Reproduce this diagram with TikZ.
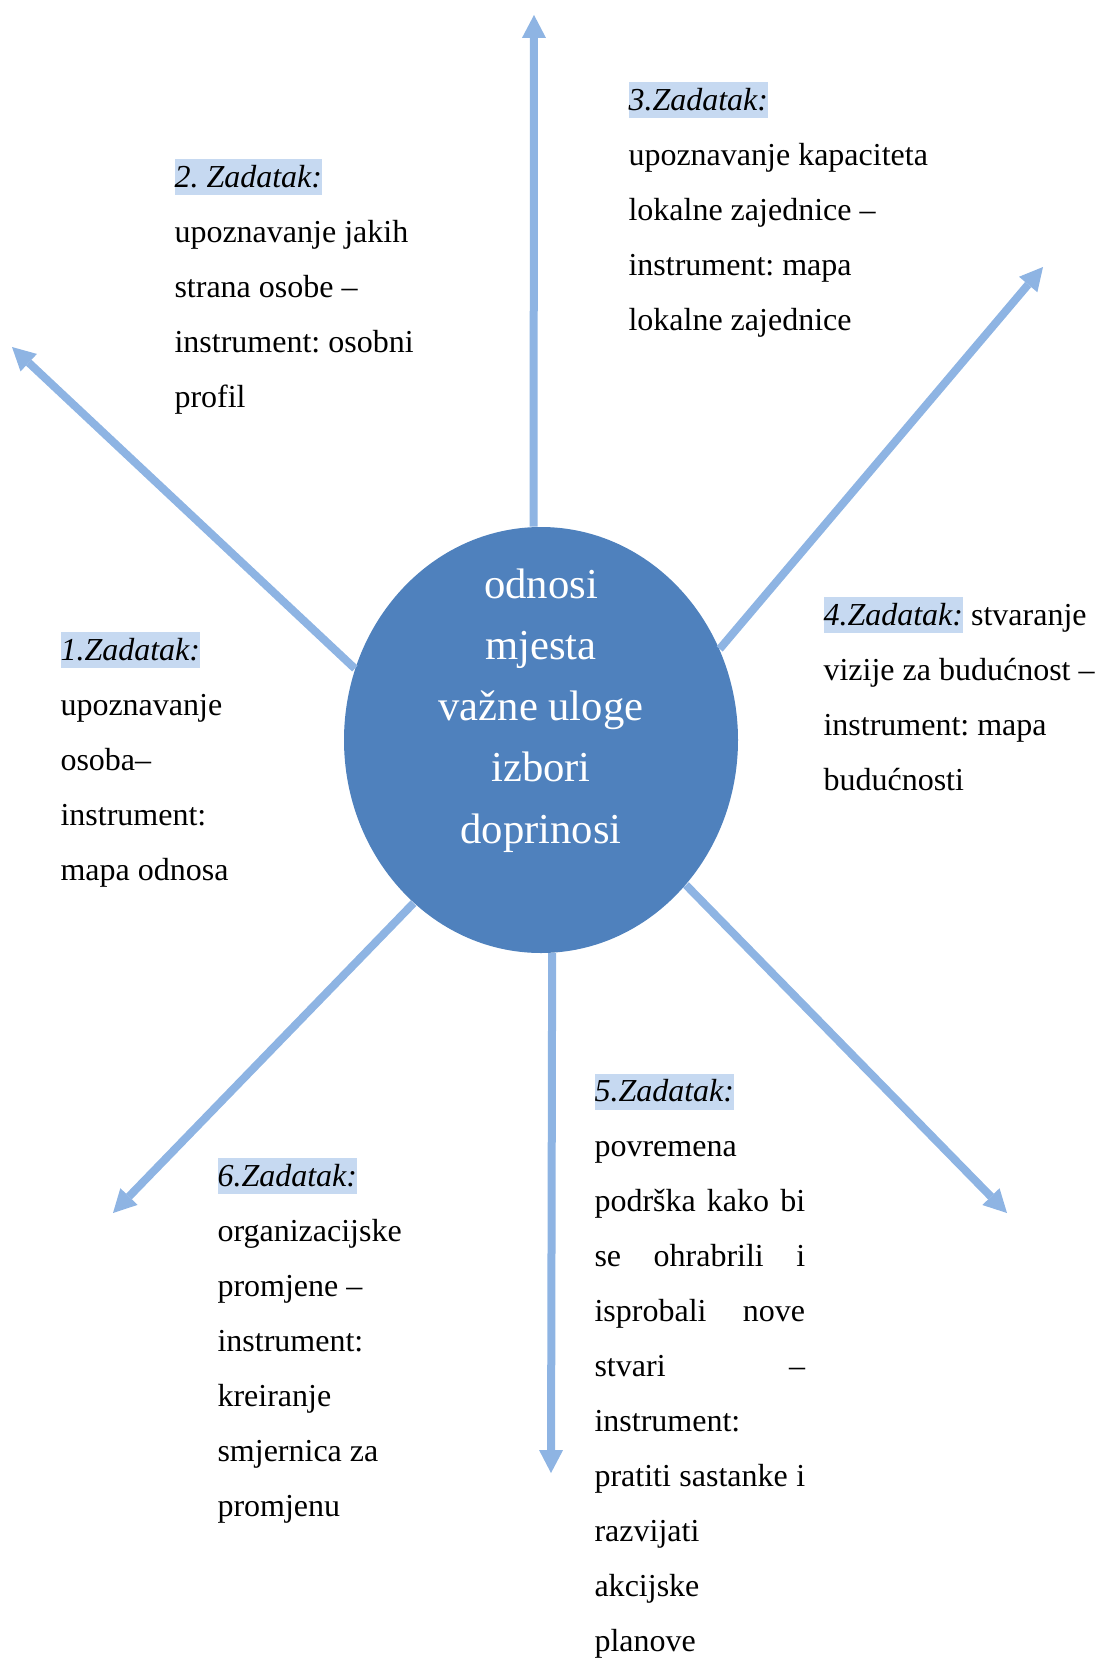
\documentclass[tikz,border=0pt]{standalone}
\usepackage{fontspec}
\setmainfont{Liberation Serif}
\usepackage{xcolor}
\usetikzlibrary{arrows.meta, shapes.geometric}
\frenchspacing

\definecolor{hubblue}{HTML}{4F81BD}
\definecolor{spokeblue}{HTML}{8EB4E3}
\definecolor{hilite}{HTML}{C6D9F1}
\newcommand{\zadatak}[1]{{\setlength{\fboxsep}{0pt}\colorbox{hilite}{\rule[-3pt]{0pt}{13.5pt}\itshape #1}}}
\newcommand{\spread}[1]{\makebox[79pt][s]{#1}}

\begin{document}
\begin{tikzpicture}[
  x=0.375pt, y=-0.375pt,
  hub/.style={ellipse, fill=hubblue, minimum width=147.75pt, minimum height=159.75pt, inner sep=0pt},
  hubtext/.style={align=center, text=white, inner sep=0pt, font=\fontsize{16}{22.9}\selectfont},
  task/.style={align=left, anchor=base west, inner sep=0pt, font=\fontsize{12}{20.6}\selectfont},
  spoke/.style={draw=spokeblue, line width=3pt, -{Triangle[width=9pt, length=8.6pt, line width=0pt]}}
]
\useasboundingbox (0,0) rectangle (1099,1659);

% Centre (text placed by its last baseline)
\node[hub] (core) at (541,740) {};
\node[hubtext, anchor=base] (coretext) at (541,843) {odnosi\\mjesta\\važne uloge\\izbori\\doprinosi};

% Spokes
\coordinate (tipN) at (534,15);
\coordinate (tipNW) at (12,347);
\coordinate (tipNE) at (1043,267);
\coordinate (tipSE) at (1007,1213);
\coordinate (tipS) at (551,1473);
\coordinate (tipSW) at (113,1213);

\draw[spoke] (core.92) -- (tipN);
\draw[spoke] (core.159) -- (tipNW);
\draw[spoke] (core.27.5) -- (tipNE);
\draw[spoke] (core.-45) -- (tipSE);
\draw[spoke] (core.-87) -- (tipS);
\draw[spoke] (core.232) -- (tipSW);

% Tasks (anchored at the baseline of the last line)
\node[task] (task1) at (60,880) {\zadatak{1.Zadatak:}\\upoznavanje\\osoba–\\instrument:\\mapa odnosa};
\node[task] (task2) at (174,407) {\zadatak{2. Zadatak:}\\upoznavanje jakih\\strana osobe –\\instrument: osobni\\profil};
\node[task] (task3) at (628,330) {\zadatak{3.Zadatak:}\\upoznavanje kapaciteta\\lokalne zajednice –\\instrument: mapa\\lokalne zajednice};
\node[task] (task4) at (823,790) {\zadatak{4.Zadatak:} stvaranje\\vizije za budućnost –\\instrument: mapa\\budućnosti};
\node[task] (task5) at (594,1651) {\zadatak{5.Zadatak:}\\povremena\\\spread{podrška kako bi}\\\spread{se ohrabrili i}\\\spread{isprobali nove}\\\spread{stvari –}\\instrument:\\\spread{pratiti sastanke i}\\razvijati\\akcijske\\planove};
\node[task] (task6) at (217,1516) {\zadatak{6.Zadatak:}\\organizacijske\\promjene –\\instrument:\\kreiranje\\smjernica za\\promjenu};

\end{tikzpicture}
\end{document}
